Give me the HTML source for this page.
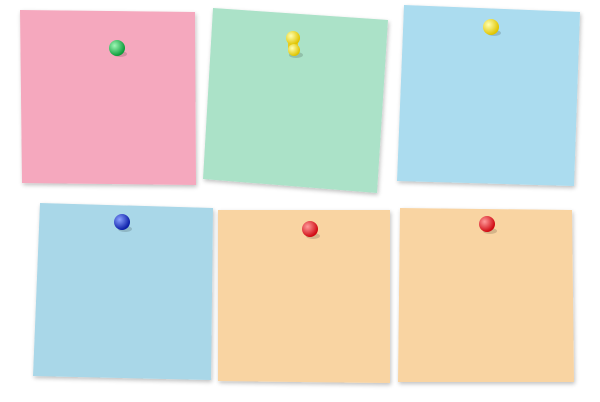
<!DOCTYPE html>
<html>
<head>
<meta charset="utf-8">
<style>
html,body{margin:0;padding:0;background:#fff;}
svg{display:block;}
</style>
</head>
<body>
<svg width="600" height="402" viewBox="0 0 600 402">
  <defs>
    <filter id="sh" x="-10%" y="-10%" width="130%" height="130%">
      <feGaussianBlur in="SourceAlpha" stdDeviation="2"/>
      <feOffset dx="1" dy="2"/>
      <feComponentTransfer><feFuncA type="linear" slope="0.25"/></feComponentTransfer>
      <feMerge><feMergeNode/><feMergeNode in="SourceGraphic"/></feMerge>
    </filter>
    <radialGradient id="pg" cx="35%" cy="35%" r="65%"><stop offset="0" stop-color="#9ff7b6"/><stop offset="1" stop-color="#0c9c3a"/></radialGradient>
    <radialGradient id="py" cx="35%" cy="35%" r="65%"><stop offset="0" stop-color="#ffffb0"/><stop offset="1" stop-color="#e0c400"/></radialGradient>
    <radialGradient id="pb" cx="35%" cy="35%" r="65%"><stop offset="0" stop-color="#8aa0ff"/><stop offset="1" stop-color="#0b1ea8"/></radialGradient>
    <radialGradient id="pr" cx="35%" cy="35%" r="65%"><stop offset="0" stop-color="#ff9a9a"/><stop offset="1" stop-color="#d00a12"/></radialGradient>
  </defs>

  <polygon filter="url(#sh)" fill="#f5a8be" points="20,10 195,12 196,185 22,183"/>
  <polygon filter="url(#sh)" fill="#abe2c8" points="213,8 388,20 377,193 203,179"/>
  <polygon filter="url(#sh)" fill="#abdcef" points="404,5 580,12 574,186 397,181"/>
  <polygon filter="url(#sh)" fill="#a9d7e8" points="40,203 213,208 211,380 33,376"/>
  <polygon filter="url(#sh)" fill="#f9d4a2" points="218,210 390,210 390,383 218,381"/>
  <polygon filter="url(#sh)" fill="#f9d4a2" points="400,208 572,210 574,382 398,382"/>

  <g><ellipse cx="120" cy="54" rx="7" ry="3" fill="rgba(0,0,0,0.15)"/><circle cx="117" cy="48" r="8" fill="url(#pg)"/></g>
  <g><ellipse cx="296" cy="55" rx="7" ry="3" fill="rgba(0,0,0,0.15)"/><rect x="288" y="40" width="10" height="12" rx="4" fill="#e6cc20"/><circle cx="293" cy="38" r="7" fill="url(#py)"/><circle cx="294" cy="50" r="6" fill="url(#py)"/></g>
  <g><ellipse cx="494" cy="33" rx="7" ry="3" fill="rgba(0,0,0,0.15)"/><circle cx="491" cy="27" r="8" fill="url(#py)"/></g>
  <g><ellipse cx="125" cy="229" rx="7" ry="3" fill="rgba(0,0,0,0.15)"/><circle cx="122" cy="222" r="8" fill="url(#pb)"/></g>
  <g><ellipse cx="313" cy="236" rx="7" ry="3" fill="rgba(0,0,0,0.15)"/><circle cx="310" cy="229" r="8" fill="url(#pr)"/></g>
  <g><ellipse cx="490" cy="231" rx="7" ry="3" fill="rgba(0,0,0,0.15)"/><circle cx="487" cy="224" r="8" fill="url(#pr)"/></g>
</svg>
</body>
</html>
